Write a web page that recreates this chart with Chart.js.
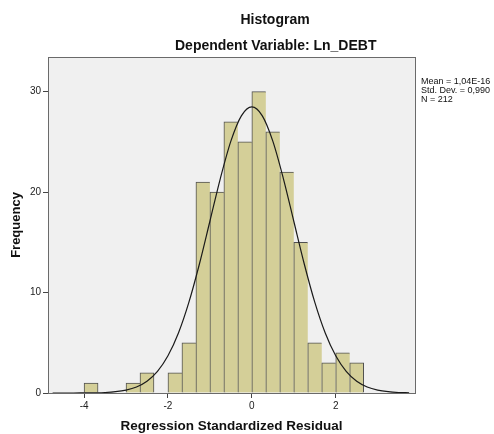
<!DOCTYPE html>
<html>
<head>
<meta charset="utf-8">
<script src="https://cdn.jsdelivr.net/npm/chart.js@4.4.1/dist/chart.umd.min.js"></script>
<style>
  html, body { margin: 0; padding: 0; background: #fff; }
  #wrap { position: relative; width: 494px; height: 434px; font-family: "Liberation Sans", Arial, sans-serif; }
  #chart { position: absolute; left: 0; top: 0; }
  .title { position: absolute; left: 175px; width: 200px; text-align: center; font-weight: bold; font-size: 14px; color: #111; white-space: nowrap; }
  #stats { position: absolute; left: 421px; top: 77px; font-size: 9px; line-height: 9px; color: #111; }
</style>
</head>
<body>
<div id="wrap">
  <canvas id="chart" width="494" height="434"></canvas>
  <div class="title" style="top:11px">Histogram</div>
  <div class="title" style="top:37px">Dependent Variable: Ln_DEBT</div>
  <div id="stats">Mean = 1,04E-16<br>Std. Dev. = 0,990<br>N = 212</div>
</div>
<script>
/* Histogram of regression standardized residuals with the normal curve on top. */
(function () {
  "use strict";

  // bin centres (bins are 1/3 wide, edges on multiples of 1/3)
  var binCenters = [-3.8333, -3.5, -3.1667, -2.8333, -2.5, -2.1667, -1.8333, -1.5, -1.1667, -0.8333,
                    -0.5, -0.1667, 0.1667, 0.5, 0.8333, 1.1667, 1.5, 1.8333, 2.1667, 2.5];
  var binCounts = [1, 0, 0, 1, 2, 0, 2, 5, 21, 20, 27, 25, 30, 26, 22, 15, 5, 3, 4, 3];

  // normal curve
  var curveX = [-4.75, -4.5, -4.25, -4, -3.75, -3.5, -3.25, -3, -2.75, -2.5, -2.25, -2, -1.75, -1.5,
                -1.25, -1, -0.75, -0.5, -0.25, 0, 0.25, 0.5, 0.75, 1, 1.25, 1.5, 1.75, 2, 2.25, 2.5,
                2.75, 3, 3.25, 3.5, 3.75];
  var curveY = [0, 0, 0, 0.01, 0.02, 0.05, 0.13, 0.29, 0.6, 1.17, 2.15, 3.7, 5.97, 9.04,
                12.84, 17.1, 21.37, 25.07, 27.59, 28.48, 27.59, 25.07, 21.37, 17.1, 12.84, 9.04, 5.97, 3.7, 2.15, 1.17,
                0.6, 0.29, 0.13, 0.05, 0.02];

  var xTicks = [-4, -2, 0, 2];
  var yTicks = [0, 10, 20, 30];

  var bars = [], curve = [];
  for (var i = 0; i < binCenters.length; i++) bars.push({ x: binCenters[i], y: binCounts[i] });
  for (i = 0; i < curveX.length; i++) curve.push({ x: curveX[i], y: curveY[i] });

  // adjacent bars share one edge line, so only draw the right edge where the next bin is empty
  function barBorder(ctx) {
    var k = ctx.dataIndex;
    var nextEmpty = k === binCounts.length - 1 || !binCounts[k + 1];
    return { top: 1, left: 1, bottom: 0, right: nextEmpty ? 1 : 0 };
  }

  var plotFrame = {
    id: "plotFrame",
    beforeDatasetsDraw: function (chart) {
      var a = chart.chartArea, c = chart.ctx;
      c.save();
      c.fillStyle = "#f0f0f0";
      c.fillRect(a.left, a.top, a.right - a.left, a.bottom - a.top);
      c.restore();
    },
    afterDraw: function (chart) {
      var a = chart.chartArea, c = chart.ctx;
      c.save();
      c.strokeStyle = "#6a6a6a";
      c.lineWidth = 1;
      c.strokeRect(Math.round(a.left) + 0.5, Math.round(a.top) + 0.5,
                   Math.round(a.right - a.left), Math.round(a.bottom - a.top));
      c.restore();
    }
  };

  var tickFont = { family: "'Liberation Sans', Arial, sans-serif", size: 10 };
  var titleFont = { family: "'Liberation Sans', Arial, sans-serif", weight: "bold" };

  new Chart(document.getElementById("chart"), {
    data: {
      datasets: [
        { type: "line", data: curve, borderColor: "#1a1a1a", borderWidth: 1.2, pointRadius: 0,
          tension: 0.4, cubicInterpolationMode: "monotone", fill: false, order: 0 },
        { type: "bar", data: bars, backgroundColor: "#d4cf98", borderColor: "#505050",
          borderWidth: barBorder, borderSkipped: false, barPercentage: 1, categoryPercentage: 1,
          grouped: false, order: 1 }
      ]
    },
    options: {
      responsive: false,
      animation: false,
      events: [],
      layout: { padding: { top: 57, right: 79, left: 0, bottom: 0 } },
      plugins: { legend: { display: false }, tooltip: { enabled: false } },
      scales: {
        x: {
          type: "linear", min: -4.86, max: 3.89, offset: false,
          afterBuildTicks: function (s) { s.ticks = xTicks.map(function (v) { return { value: v }; }); },
          afterFit: function (s) { s.height = 41; },
          grid: { offset: false, drawOnChartArea: false, drawTicks: true, tickLength: 5, color: "#444" },
          border: { display: true, color: "#555" },
          ticks: { font: tickFont, color: "#222", padding: 2, autoSkip: false, maxRotation: 0 },
          title: { display: true, text: "Regression Standardized Residual", color: "#111",
                   font: Object.assign({ size: 13.5 }, titleFont), padding: { top: 0, bottom: 0 } }
        },
        y: {
          type: "linear", min: 0, max: 33.45,
          afterBuildTicks: function (s) { s.ticks = yTicks.map(function (v) { return { value: v }; }); },
          afterFit: function (s) { s.width = 48; },
          grid: { drawOnChartArea: false, drawTicks: true, tickLength: 5, color: "#444" },
          border: { display: true, color: "#555" },
          ticks: { font: tickFont, color: "#222", padding: 2 },
          title: { display: true, text: "Frequency", color: "#111",
                   font: Object.assign({ size: 13 }, titleFont), padding: { top: 9, bottom: 0 } }
        }
      }
    },
    plugins: [plotFrame]
  });
})();
</script>
</body>
</html>
